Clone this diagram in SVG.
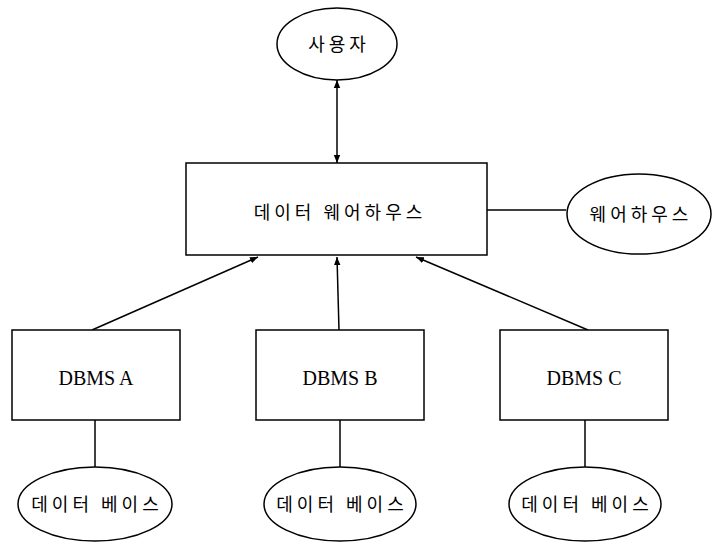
<svg xmlns="http://www.w3.org/2000/svg" width="713" height="543" viewBox="0 0 713 543">
<style>
.s{fill:#fff;stroke:#000;stroke-width:1.5}
.k{font-family:"Noto Sans CJK KR","Noto Sans",sans-serif;font-size:18px;font-weight:400;letter-spacing:4px;fill:#000;text-anchor:middle;dominant-baseline:central}
.e{font-family:"Liberation Serif",serif;font-size:20px;fill:#000;text-anchor:middle;dominant-baseline:central}
.c{stroke:#000;stroke-width:1.5;fill:none}
</style>
<defs>
<marker id="ah" viewBox="0 0 10 10" refX="10" refY="5" markerWidth="8" markerHeight="8" markerUnits="userSpaceOnUse" orient="auto-start-reverse">
<path d="M0,1 L10,5 L0,9 z" fill="#000"/>
</marker>
</defs>
<g id="connectors">
<line class="c" x1="337" y1="80" x2="337" y2="163" marker-start="url(#ah)" marker-end="url(#ah)"/>
<line class="c" x1="487" y1="210" x2="566" y2="210"/>
<line class="c" x1="92" y1="330" x2="258" y2="257" marker-end="url(#ah)"/>
<line class="c" x1="339" y1="330" x2="337" y2="257" marker-end="url(#ah)"/>
<line class="c" x1="588" y1="330" x2="416" y2="257" marker-end="url(#ah)"/>
<line class="c" x1="95" y1="420" x2="95" y2="467"/>
<line class="c" x1="340" y1="420" x2="340" y2="467"/>
<line class="c" x1="585" y1="420" x2="585" y2="467"/>
</g>
<g id="user">
<ellipse class="s" cx="337" cy="44" rx="60" ry="36"/>
<text class="k" x="339" y="43">사용자</text>
</g>
<g id="dw">
<rect class="s" x="186" y="163" width="301" height="92"/>
<text class="k" x="340" y="211">데이터 웨어하우스</text>
</g>
<g id="wh">
<ellipse class="s" cx="639" cy="214" rx="72" ry="40"/>
<text class="k" x="641" y="213">웨어하우스</text>
</g>
<g id="dbmsA">
<rect class="s" x="12" y="330" width="168" height="90"/>
<text class="e" x="96" y="378">DBMS A</text>
</g>
<g id="dbmsB">
<rect class="s" x="256" y="330" width="168" height="90"/>
<text class="e" x="340" y="378">DBMS B</text>
</g>
<g id="dbmsC">
<rect class="s" x="500" y="330" width="168" height="90"/>
<text class="e" x="584" y="378">DBMS C</text>
</g>
<g id="dbA">
<ellipse class="s" cx="95" cy="504" rx="77" ry="37"/>
<text class="k" x="97" y="503">데이터 베이스</text>
</g>
<g id="dbB">
<ellipse class="s" cx="340" cy="504" rx="76" ry="37"/>
<text class="k" x="342" y="503">데이터 베이스</text>
</g>
<g id="dbC">
<ellipse class="s" cx="585" cy="504" rx="76" ry="37"/>
<text class="k" x="587" y="503">데이터 베이스</text>
</g>
</svg>
